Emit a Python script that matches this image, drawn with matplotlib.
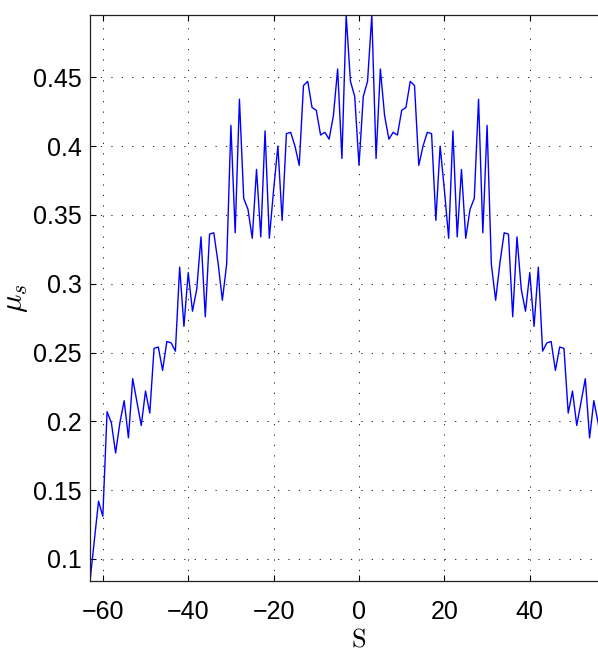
import matplotlib
matplotlib.use('Agg')
import matplotlib.pyplot as plt

# friction coefficient vs. S (s = -63 .. 63)
s_vals = list(range(-63, 64))
mu_s = [
    0.084, 0.113, 0.142, 0.131, 0.207, 0.199, 0.177, 0.199, 0.215, 0.188,   # -63 .. -54
    0.231, 0.214, 0.197, 0.222, 0.206, 0.253, 0.254, 0.237, 0.258, 0.257,   # -53 .. -44
    0.251, 0.312, 0.269, 0.308, 0.280, 0.296, 0.334, 0.276, 0.336, 0.337,   # -43 .. -34
    0.315, 0.288, 0.314, 0.415, 0.337, 0.434, 0.362, 0.354, 0.333, 0.383,   # -33 .. -24
    0.334, 0.411, 0.333, 0.368, 0.400, 0.346, 0.409, 0.410, 0.400, 0.386,   # -23 .. -14
    0.444, 0.447, 0.428, 0.426, 0.408, 0.410, 0.405, 0.422, 0.456, 0.391,   # -13 .. -4
    0.495, 0.447, 0.436, 0.386, 0.436, 0.447, 0.495,                        # -3 .. 3
    0.391, 0.456, 0.422, 0.405, 0.410, 0.408, 0.426, 0.428, 0.447, 0.444,   # 4 .. 13
    0.386, 0.400, 0.410, 0.409, 0.346, 0.400, 0.368, 0.333, 0.411, 0.334,   # 14 .. 23
    0.383, 0.333, 0.354, 0.362, 0.434, 0.337, 0.415, 0.314, 0.288, 0.315,   # 24 .. 33
    0.337, 0.336, 0.276, 0.334, 0.296, 0.280, 0.308, 0.269, 0.312, 0.251,   # 34 .. 43
    0.257, 0.258, 0.237, 0.254, 0.253, 0.206, 0.222, 0.197, 0.214, 0.231,   # 44 .. 53
    0.188, 0.215, 0.199, 0.177, 0.199, 0.207, 0.131, 0.142, 0.113, 0.084,   # 54 .. 63
]

x_ticks = [-60, -40, -20, 0, 20, 40]
y_ticks = [0.1, 0.15, 0.2, 0.25, 0.3, 0.35, 0.4, 0.45]
y_tick_labels = ['0.1', '0.15', '0.2', '0.25', '0.3', '0.35', '0.4', '0.45']

plt.rcParams['font.family'] = ['Liberation Sans', 'DejaVu Sans']
plt.rcParams['mathtext.fontset'] = 'cm'

fig = plt.figure(figsize=(5.98, 6.56), dpi=100)
# axes runs past the right edge: the reference is cropped there
ax = fig.add_axes([90 / 598, 75 / 656, 538 / 598, 565.7 / 656])

ax.plot(s_vals, mu_s, color='#0000ff', lw=1.0)

ax.set_xlim(-63, 63)
ax.set_ylim(0.084, 0.495)
ax.set_xticks(x_ticks)
ax.set_yticks(y_ticks)
ax.set_yticklabels(y_tick_labels)

ax.grid(True, color='k', linestyle=(0, (1.5, 11)), linewidth=0.6)
ax.tick_params(direction='in', length=4, width=0.8, labelsize=18,
               top=True, right=True, pad=6)
ax.tick_params(axis='x', pad=14)
for sp in ax.spines.values():
    sp.set_linewidth(0.9)
    sp.set_color('#222222')

ax.set_xlabel(r'$\mathrm{S}$', fontsize=19, labelpad=2)
ax.set_ylabel(r'$\mu_s$', fontsize=22, labelpad=2)

fig.savefig('out.png', dpi=100)
